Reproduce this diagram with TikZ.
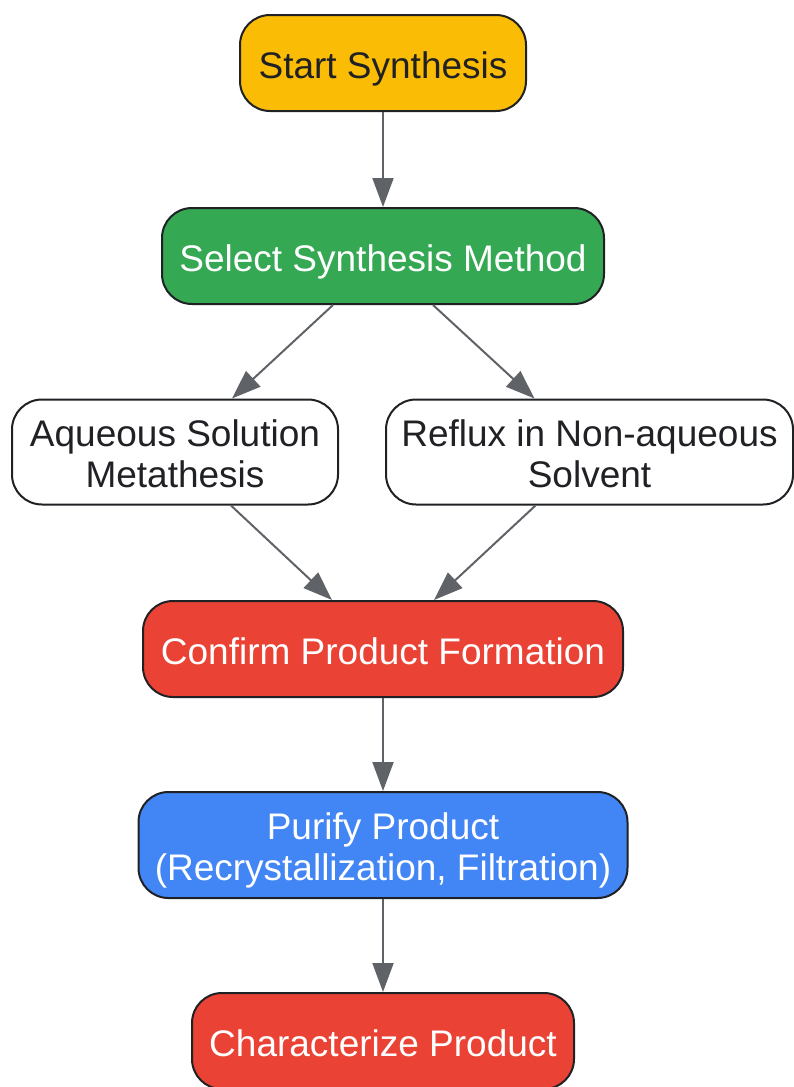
\documentclass[tikz,border=0pt]{standalone}
\usepackage{fontspec}
\setmainfont{Liberation Sans}
\usetikzlibrary{arrows.meta,positioning,calc}
\definecolor{startyel}{HTML}{FBBC05}
\definecolor{selgreen}{HTML}{34A853}
\definecolor{stepred}{HTML}{EA4335}
\definecolor{purblue}{HTML}{4285F4}
\definecolor{edgegray}{HTML}{5F6368}
\definecolor{inkdark}{HTML}{202124}

\begin{document}
\begin{tikzpicture}[x=1pt,y=-1pt,>={Triangle[length=29pt,width=21pt]},
  font=\fontsize{37}{41}\selectfont,
  box/.style={rectangle,rounded corners=30pt,draw=inkdark,line width=2pt,
    align=center,inner sep=0pt,minimum height=96pt,text=white,
    text height=30pt,text depth=0pt},
  twoline/.style={minimum height=105pt,text height=72pt,text depth=2pt},
  flow/.style={->,draw=edgegray,fill=edgegray,line width=2pt}]

\useasboundingbox (0,0) rectangle (793,1087);

% draw steps
\node[box,fill=startyel,text=inkdark,minimum width=286pt] (start) at (383,63) {Start Synthesis};
\node[box,fill=selgreen,minimum width=442pt] (sel) at (383,256) {Select Synthesis Method};

% draw the two methods
\node[box,twoline,fill=white,text=inkdark,minimum width=326pt] (aq) at (175,452) {Aqueous Solution\\Metathesis};
\node[box,twoline,fill=white,text=inkdark,minimum width=407pt] (ref) at (589.5,452) {Reflux in Non-aqueous\\Solvent};

% draw the remaining steps
\node[box,fill=stepred,minimum width=480pt] (conf) at (383,649) {Confirm Product Formation};
\node[box,twoline,fill=purblue,minimum width=489pt,minimum height=106pt] (pur) at (383,845) {Purify Product\\(Recrystallization, Filtration)};
\node[box,fill=stepred,minimum width=382pt] (char) at (383,1041) {Characterize Product};

% connect vertical steps
\foreach \a/\b in {start/sel,conf/pur,pur/char}
{
  \draw[flow] (\a) -- (\b);
}

% connect the branches
\draw[flow] ([xshift=-50pt]sel.south) -- ([xshift=57pt]aq.north);
\draw[flow] ([xshift=50pt]sel.south) -- ([xshift=-55pt]ref.north);
\draw[flow] ([xshift=56pt]aq.south) -- ([xshift=-51pt]conf.north);
\draw[flow] ([xshift=-54pt]ref.south) -- ([xshift=51pt]conf.north);

\end{tikzpicture}
\end{document}
